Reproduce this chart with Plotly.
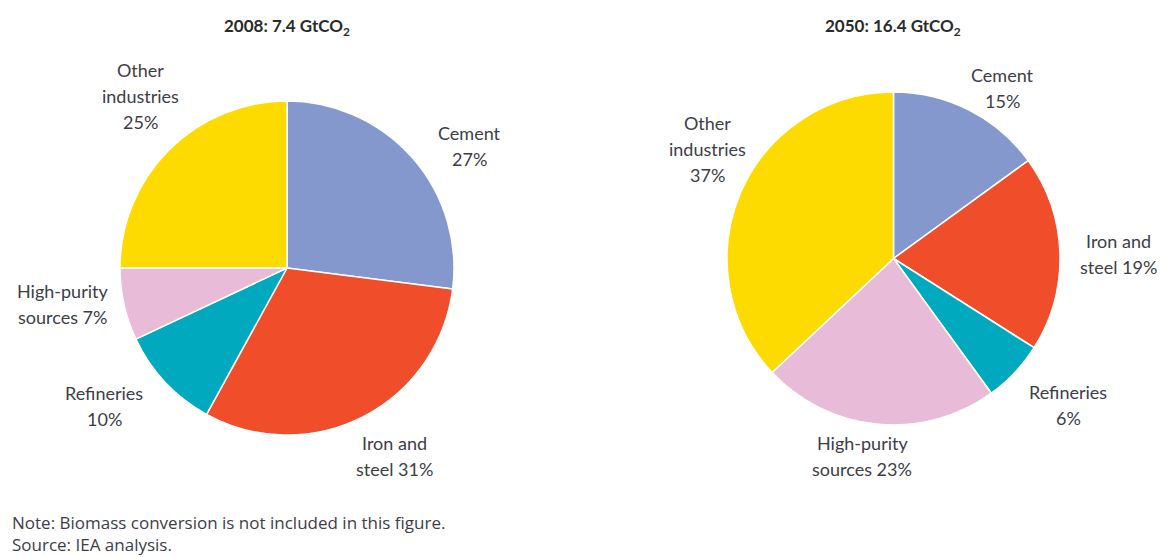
import plotly.graph_objects as go

# ---- data ----
sectors = ["Cement", "Iron and steel", "Refineries", "High-purity sources", "Other industries"]
share_2008 = [27, 31, 10, 7, 25]
share_2050 = [15, 19, 6, 23, 37]
titles = ["2008: 7.4 GtCO<sub>2</sub>", "2050: 16.4 GtCO<sub>2</sub>"]
label_display = ["Cement<br>", "Iron and<br>steel ", "Refineries<br>", "High-purity<br>sources ", "Other<br>industries<br>"]
note_lines = ["Note: Biomass conversion is not included in this figure.", "Source: IEA analysis."]

# ---- style ----
colors = ["#8498CE", "#F04E2A", "#00A9BD", "#E8BBD9", "#FEDB00"]
W, H = 1171, 557
FONT = "Lato"
TXT = "#3d3d48"
LINE_GAP = 26

def px_x(x):
    return x / W

def px_y(y):
    return 1 - y / H

# pie placements in pixels (left, right, top, bottom)
pie_boxes = [(120, 454, 101, 435), (727, 1060, 92, 425)]
# label centers in pixels
label_pos = [
    [(469, 146), (394, 456), (104, 406), (62, 304), (140, 96)],
    [(1002, 88), (1118, 254), (1068, 405), (862, 456), (707, 149)],
]
title_pos = [(287, 27), (893, 27)]

fig = go.Figure()
for i, vals in enumerate([share_2008, share_2050]):
    l, r, t, b = pie_boxes[i]
    fig.add_trace(go.Pie(
        labels=sectors, values=vals, sort=False, direction="clockwise", rotation=0,
        marker=dict(colors=colors, line=dict(color="white", width=1.5)),
        textinfo="none", hoverinfo="label+percent", showlegend=False,
        domain=dict(x=[px_x(l), px_x(r)], y=[px_y(b), px_y(t)]),
    ))
    for j, (lab, v) in enumerate(zip(label_display, vals)):
        x, y = label_pos[i][j]
        lines = f"{lab}{v}%".split("<br>")
        n = len(lines)
        for k, ln in enumerate(lines):
            yy = y + (k - (n - 1) / 2) * LINE_GAP
            fig.add_annotation(x=px_x(x), y=px_y(yy), xref="paper", yref="paper",
                               text=ln, showarrow=False, align="center",
                               xanchor="center", yanchor="middle",
                               font=dict(family=FONT, size=18, color=TXT))
    tx, ty = title_pos[i]
    fig.add_annotation(x=px_x(tx), y=px_y(ty), xref="paper", yref="paper",
                       text=f"<b>{titles[i]}</b>", showarrow=False,
                       xanchor="center", yanchor="middle",
                       font=dict(family=FONT, size=17, color="#2a2a2a"))

for k, line in enumerate(note_lines):
    fig.add_annotation(x=px_x(10), y=px_y(522 + 22.5 * k), xref="paper", yref="paper",
                       text=line, showarrow=False, xanchor="left", yanchor="middle",
                       font=dict(family="Open Sans", size=17, color=TXT))

fig.update_layout(width=W, height=H, margin=dict(l=0, r=0, t=0, b=0),
                  paper_bgcolor="white", plot_bgcolor="white")
fig.write_html("out.html", config={"displayModeBar": False},
               post_script="document.body.style.margin='0';")
